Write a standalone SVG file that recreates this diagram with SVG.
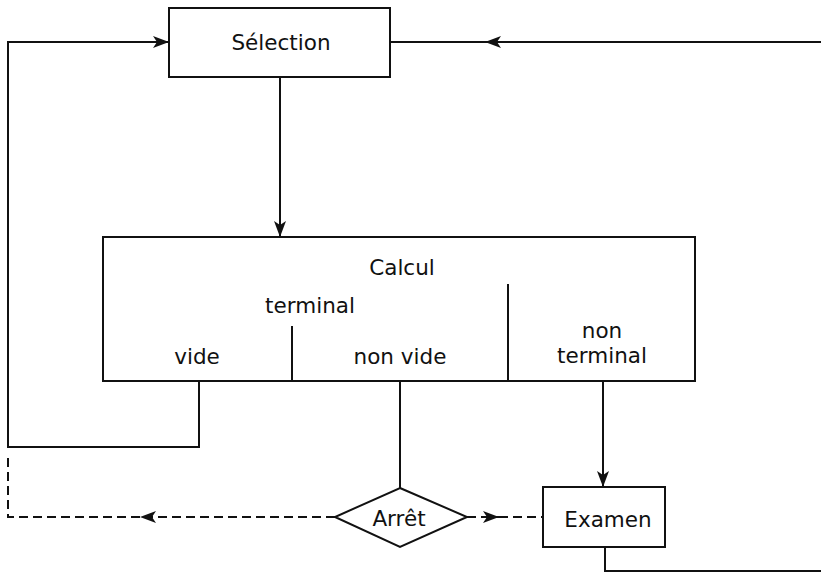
<svg xmlns="http://www.w3.org/2000/svg" width="821" height="573" viewBox="0 0 821 573">
<defs>
<style>
.box{fill:#fff;stroke:#111;stroke-width:2}
.ln{fill:none;stroke:#111;stroke-width:2}
.dash{fill:none;stroke:#111;stroke-width:2;stroke-dasharray:9 5}
.t{font-family:"DejaVu Sans","Liberation Sans",sans-serif;font-size:21.5px;fill:#111;text-anchor:middle}
</style>
<marker id="ah" markerUnits="userSpaceOnUse" markerWidth="17" markerHeight="12" refX="16" refY="6" orient="auto">
<path d="M0,0 L16,6 L0,12 L4,6 z" fill="#111"/>
</marker>
</defs>
<rect width="821" height="573" fill="#fff"/>
<g id="connectors">
<path class="ln" d="M199,381 L199,447 L8,447 L8,42 L169,42" marker-end="url(#ah)"/>
<path class="ln" d="M821,42 L485,42" marker-end="url(#ah)"/>
<path class="ln" d="M485,42 L390,42"/>
<path class="ln" d="M280,77 L280,237" marker-end="url(#ah)"/>
<path class="ln" d="M400,381 L400,488"/>
<path class="ln" d="M603,381 L603,487" marker-end="url(#ah)"/>
<path class="ln" d="M605,547 L605,571 L821,571"/>
<path class="dash" d="M335,517 L140,517" marker-end="url(#ah)"/>
<path class="dash" d="M140,517 L8,517 L8,454"/>
<path class="dash" d="M467,517 L499,517" marker-end="url(#ah)"/>
<path class="dash" d="M499,517 L543,517"/>
</g>
<g id="selection">
<rect class="box" x="169" y="8" width="221" height="69"/>
<text class="t" x="281" y="50">Sélection</text>
</g>
<g id="calcul">
<rect class="box" x="103" y="237" width="592" height="144"/>
<path class="ln" d="M292,326 L292,381 M508,284 L508,381"/>
<text class="t" x="402" y="275">Calcul</text>
<text class="t" x="310" y="313">terminal</text>
<text class="t" x="197" y="364">vide</text>
<text class="t" x="400" y="364">non vide</text>
<text class="t" x="602" y="338">non</text>
<text class="t" x="602" y="363">terminal</text>
</g>
<g id="arret">
<polygon class="box" points="400,488 467,517 400,547 335,517"/>
<text class="t" x="399" y="526">Arrêt</text>
</g>
<g id="examen">
<rect class="box" x="543" y="487" width="122" height="60"/>
<text class="t" x="608" y="527">Examen</text>
</g>
</svg>
